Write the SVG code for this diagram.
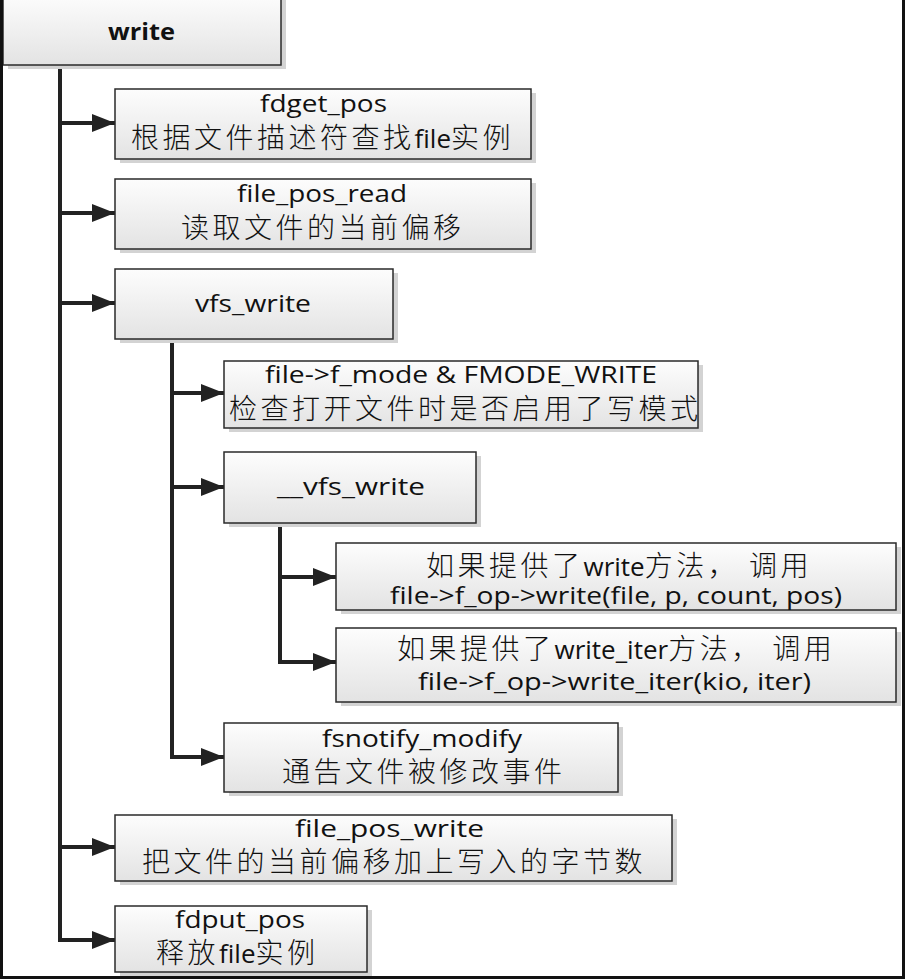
<svg xmlns="http://www.w3.org/2000/svg" width="905" height="979" viewBox="0 0 905 979">
  <defs>
    <linearGradient id="boxFill" x1="0" y1="0" x2="0" y2="1">
      <stop offset="0" stop-color="#fdfdfd"/>
      <stop offset="1" stop-color="#e3e3e3"/>
    </linearGradient>
    <marker id="arrow" markerUnits="userSpaceOnUse" markerWidth="24" markerHeight="20" refX="23" refY="9" orient="auto">
      <polygon points="0,0 23,9 0,18" fill="#222"/>
    </marker>
    <style>
      .box { fill: url(#boxFill); stroke: #2a2a2a; stroke-width: 1.5; }
      .shadow { fill: #d3d3d3; }
      .lat { font-family: "Open Sans", "Liberation Sans", sans-serif; font-size: 24px; fill: #111; }
      .cjk { font-family: "Noto Sans CJK SC", "Noto Sans", sans-serif; font-size: 28px; font-weight: 300; letter-spacing: 3.5px; fill: #111; }
      .lt { font-family: "Open Sans", "Liberation Sans", sans-serif; font-size: 26px; font-weight: normal; letter-spacing: 0; }
      .bold { font-weight: bold; }
      .wire { fill: none; stroke: #222; stroke-width: 4; stroke-linejoin: miter; }
      .frame { fill: #111; }
    </style>
  </defs>

  <rect width="905" height="979" fill="#ffffff"/>

  <!-- connectors -->
  <g id="connectors">
    <path class="wire" d="M60,65 V940 H115" marker-end="url(#arrow)"/>
    <path class="wire" d="M60,123 H115" marker-end="url(#arrow)"/>
    <path class="wire" d="M60,213 H115" marker-end="url(#arrow)"/>
    <path class="wire" d="M60,303 H115" marker-end="url(#arrow)"/>
    <path class="wire" d="M60,847 H115" marker-end="url(#arrow)"/>
    <path class="wire" d="M172,339 V757 H224" marker-end="url(#arrow)"/>
    <path class="wire" d="M172,393 H224" marker-end="url(#arrow)"/>
    <path class="wire" d="M172,487 H224" marker-end="url(#arrow)"/>
    <path class="wire" d="M280,523 V662 H336" marker-end="url(#arrow)"/>
    <path class="wire" d="M280,577 H336" marker-end="url(#arrow)"/>
  </g>

  <g id="write">
    <rect class="shadow" x="8" y="-2" width="278" height="71"/>
    <rect class="box" x="3" y="-6" width="278" height="71"/>
    <text class="lat bold" x="108" y="40" textLength="67" lengthAdjust="spacingAndGlyphs">write</text>
  </g>

  <g id="fdget_pos">
    <rect class="shadow" x="120" y="93" width="416" height="70"/>
    <rect class="box" x="115" y="89" width="416" height="70"/>
    <text class="lat" x="260" y="112" textLength="127" lengthAdjust="spacingAndGlyphs">fdget_pos</text>
    <text class="cjk" x="131" y="148">根据文件描述符查找<tspan class="lt">file</tspan>实例</text>
  </g>

  <g id="file_pos_read">
    <rect class="shadow" x="120" y="183" width="416" height="70"/>
    <rect class="box" x="115" y="179" width="416" height="70"/>
    <text class="lat" x="237" y="202" textLength="170" lengthAdjust="spacingAndGlyphs">file_pos_read</text>
    <text class="cjk" x="181" y="238">读取文件的当前偏移</text>
  </g>

  <g id="vfs_write">
    <rect class="shadow" x="120" y="273" width="278" height="70"/>
    <rect class="box" x="115" y="269" width="278" height="70"/>
    <text class="lat" x="195" y="312" textLength="116" lengthAdjust="spacingAndGlyphs">vfs_write</text>
  </g>

  <g id="fmode_check">
    <rect class="shadow" x="229" y="365" width="474" height="67"/>
    <rect class="box" x="224" y="361" width="474" height="67"/>
    <text class="lat" x="265" y="383" textLength="392" lengthAdjust="spacingAndGlyphs">file-&gt;f_mode &amp; FMODE_WRITE</text>
    <text class="cjk" x="229" y="419">检查打开文件时是否启用了写模式</text>
  </g>

  <g id="__vfs_write">
    <rect class="shadow" x="229" y="456" width="252" height="71"/>
    <rect class="box" x="224" y="452" width="252" height="71"/>
    <text class="lat" x="277" y="495" textLength="148" lengthAdjust="spacingAndGlyphs">__vfs_write</text>
  </g>

  <g id="op_write">
    <rect class="shadow" x="341" y="547" width="560" height="67"/>
    <rect class="box" x="336" y="543" width="560" height="67"/>
    <text class="cjk" x="426" y="576">如果提供了<tspan class="lt">write</tspan>方法， 调用</text>
    <text class="lat" x="390" y="604" textLength="452" lengthAdjust="spacingAndGlyphs">file-&gt;f_op-&gt;write(file, p, count, pos)</text>
  </g>

  <g id="op_write_iter">
    <rect class="shadow" x="341" y="632" width="560" height="74"/>
    <rect class="box" x="336" y="628" width="560" height="74"/>
    <text class="cjk" x="397" y="659">如果提供了<tspan class="lt">write_iter</tspan>方法， 调用</text>
    <text class="lat" x="418" y="690" textLength="393" lengthAdjust="spacingAndGlyphs">file-&gt;f_op-&gt;write_iter(kio, iter)</text>
  </g>

  <g id="fsnotify_modify">
    <rect class="shadow" x="229" y="727" width="394" height="69"/>
    <rect class="box" x="224" y="723" width="394" height="69"/>
    <text class="lat" x="322" y="747" textLength="200" lengthAdjust="spacingAndGlyphs">fsnotify_modify</text>
    <text class="cjk" x="282" y="782">通告文件被修改事件</text>
  </g>

  <g id="file_pos_write">
    <rect class="shadow" x="120" y="819" width="557" height="66"/>
    <rect class="box" x="115" y="815" width="557" height="66"/>
    <text class="lat" x="295" y="837" textLength="189" lengthAdjust="spacingAndGlyphs">file_pos_write</text>
    <text class="cjk" x="142" y="872">把文件的当前偏移加上写入的字节数</text>
  </g>

  <g id="fdput_pos">
    <rect class="shadow" x="120" y="910" width="252" height="66"/>
    <rect class="box" x="115" y="906" width="252" height="66"/>
    <text class="lat" x="175" y="928" textLength="130" lengthAdjust="spacingAndGlyphs">fdput_pos</text>
    <text class="cjk" x="156" y="963">释放<tspan class="lt">file</tspan>实例</text>
  </g>

  <!-- outer frame -->
  <g id="frame">
    <rect class="frame" x="0" y="0" width="3" height="979"/>
    <rect class="frame" x="902" y="0" width="3" height="979"/>
    <rect class="frame" x="0" y="976" width="905" height="3"/>
  </g>
</svg>
